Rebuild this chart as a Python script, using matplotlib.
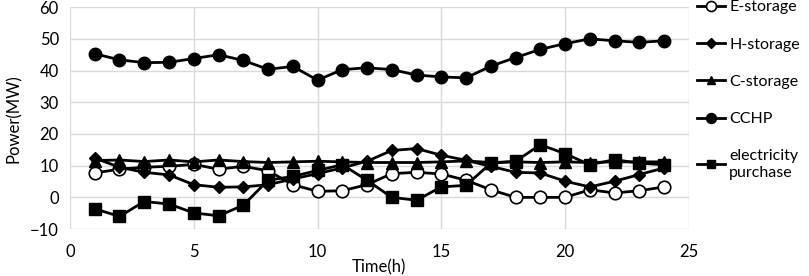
import numpy as np
import matplotlib.pyplot as plt

plt.rcParams['font.family'] = ['Lato', 'DejaVu Sans']

hours = list(range(1, 25))
e_storage = [7.7, 8.9, 9.5, 9.8, 10.4, 8.9, 9.8, 8.4, 4.0, 1.9, 2.1, 4.0,
             7.5, 7.9, 7.4, 5.4, 2.4, 0.0, 0.0, 0.0, 2.4, 1.4, 2.1, 3.3]
h_storage = [12.4, 9.5, 7.9, 7.1, 4.0, 3.2, 3.3, 4.0, 5.8, 7.5, 9.3, 11.4,
             14.8, 15.4, 13.3, 11.7, 9.8, 7.9, 7.7, 5.1, 3.3, 5.1, 7.2, 9.3]
c_storage = [11.6, 11.8, 11.3, 11.8, 11.2, 11.8, 11.3, 11.0, 11.2, 11.4, 11.2, 11.0,
             11.0, 11.0, 11.2, 11.5, 11.0, 11.2, 11.0, 11.2, 11.0, 11.2, 11.2, 11.2]
cchp = [45.3, 43.4, 42.5, 42.6, 43.8, 45.0, 43.2, 40.4, 41.3, 37.0, 40.3, 40.9,
        40.3, 38.6, 38.0, 37.7, 41.4, 44.1, 46.7, 48.5, 50.0, 49.4, 48.9, 49.4]
purchase = [-3.6, -6.0, -1.3, -2.1, -4.9, -5.8, -2.5, 5.4, 6.6, 8.5, 10.3, 5.4,
            0.0, -0.9, 3.3, 3.8, 10.8, 11.4, 16.6, 13.8, 10.3, 11.9, 10.8, 10.3]

fig = plt.figure(figsize=(8.09, 2.76), dpi=100)
ax = fig.add_axes([0.0865, 0.170, 0.765, 0.804])

kw = dict(color='black', linewidth=2)
ax.plot(hours, e_storage, marker='o', markersize=9, markerfacecolor='white',
        markeredgecolor='black', markeredgewidth=1.2, label='E-storage', **kw)
ax.plot(hours, h_storage, marker='D', markersize=6, label='H-storage', **kw)
ax.plot(hours, c_storage, marker='^', markersize=8, label='C-storage', **kw)
ax.plot(hours, cchp, marker='o', markersize=9, label='CCHP', **kw)
ax.plot(hours, purchase, marker='s', markersize=8, label='electricity\npurchase', **kw)

ax.set_xlim(0, 25)
ax.set_ylim(-10, 60)
ax.set_xticks(range(0, 26, 5))
ax.set_yticks(range(-10, 61, 10))
ax.grid(True, color='#d9d9d9', linewidth=1)
ax.set_axisbelow(True)
for s in ax.spines.values():
    s.set_visible(False)
ax.tick_params(length=0, labelsize=12, pad=8)
ax.tick_params(axis='x', pad=11)

ax.set_xlabel('Time(h)', fontsize=12, labelpad=-1)
ax.set_ylabel('Power(MW)', fontsize=12, labelpad=6)

fig.legend(loc='upper left', bbox_to_anchor=(0.862, 1.0), frameon=False,
           borderaxespad=0, borderpad=0,
           fontsize=11.5, labelspacing=1.45, handlelength=1.7, handletextpad=0.3,
           markerscale=0.8)

fig.savefig('out.png', dpi=100)
